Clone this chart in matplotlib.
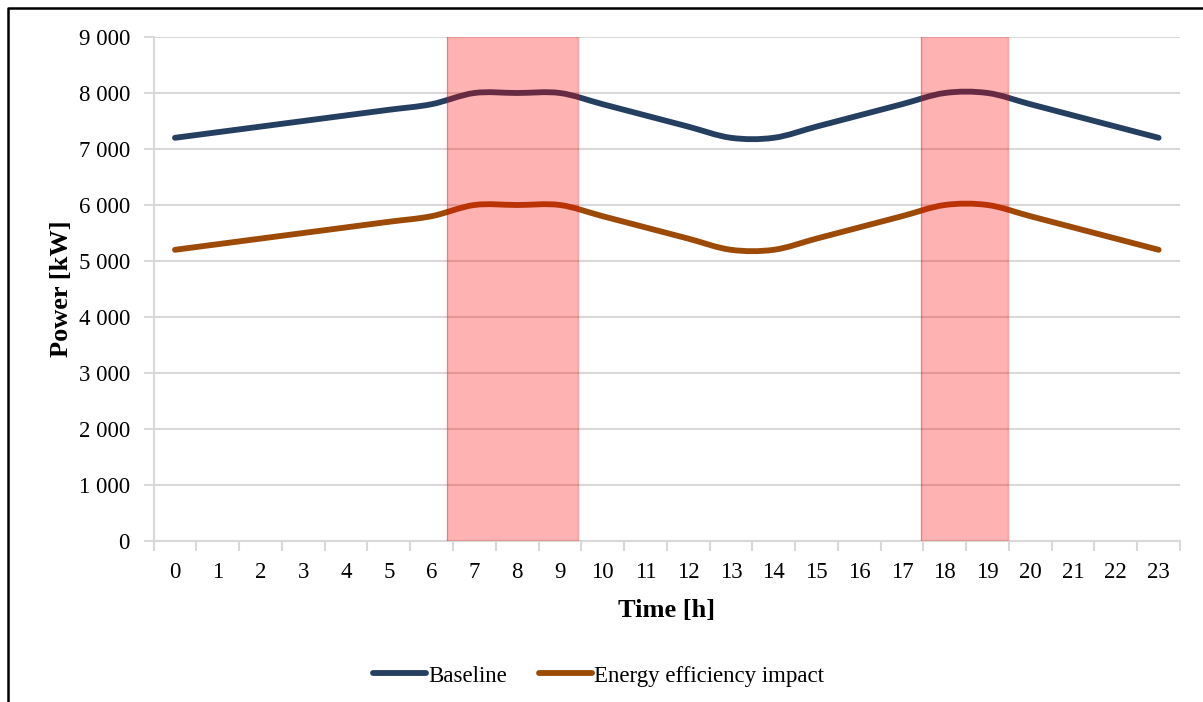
import numpy as np
import matplotlib.pyplot as plt
from matplotlib.path import Path
from matplotlib.patches import PathPatch
from matplotlib.lines import Line2D
from matplotlib.ticker import FuncFormatter

plt.rcParams["font.family"] = ["Liberation Serif", "DejaVu Serif"]

hours = list(range(24))
baseline = [7200, 7300, 7400, 7500, 7600, 7700, 7800, 8000, 8000, 8000, 7800, 7600,
            7400, 7200, 7200, 7400, 7600, 7800, 8000, 8000, 7800, 7600, 7400, 7200]
efficiency = [5200, 5300, 5400, 5500, 5600, 5700, 5800, 6000, 6000, 6000, 5800, 5600,
              5400, 5200, 5200, 5400, 5600, 5800, 6000, 6000, 5800, 5600, 5400, 5200]
peak_windows = [(6.37, 9.42), (17.45, 19.47)]

col_base = "#243f60"
col_eff = "#9c4a06"


def smooth_path(x, y):
    # Excel-style smoothed line: cubic bezier segments (catmull-rom control points)
    pts = np.column_stack([x, y]).astype(float)
    verts = [pts[0]]
    codes = [Path.MOVETO]
    n = len(pts)
    for i in range(n - 1):
        p0 = pts[i - 1] if i > 0 else pts[i]
        p1 = pts[i]
        p2 = pts[i + 1]
        p3 = pts[i + 2] if i + 2 < n else pts[i + 1]
        c1 = p1 + (p2 - p0) / 6
        c2 = p2 - (p3 - p1) / 6
        verts += [c1, c2, p2]
        codes += [Path.CURVE4] * 3
    return Path(verts, codes)


fig = plt.figure(figsize=(12.03, 7.02), dpi=100)
ax = fig.add_axes([153.6 / 1203, 1 - 541 / 702, (1180 - 153.6) / 1203, (541 - 37) / 702])

for ys, c in [(baseline, col_base), (efficiency, col_eff)]:
    ax.add_patch(PathPatch(smooth_path(hours, ys), facecolor="none", edgecolor=c,
                           lw=4.2, capstyle="round", joinstyle="round", zorder=3))

for a, b in peak_windows:
    ax.axvspan(a, b, facecolor="#ff0000", alpha=0.3, edgecolor="none", zorder=4)
    ax.axvline(a, color="#ff0000", alpha=0.35, lw=1, zorder=4)
    ax.axvline(b, color="#ff0000", alpha=0.35, lw=1, zorder=4)

ax.set_xlim(-0.5, 23.5)
ax.set_ylim(0, 9000)
ax.set_yticks(range(0, 9001, 1000))
ax.yaxis.set_major_formatter(FuncFormatter(lambda v, p: f"{int(v):,}".replace(",", " ")))
ax.set_xticks(hours)
ax.set_xticks(np.arange(-0.5, 24, 1), minor=True)
ax.tick_params(axis="x", which="major", length=0, labelsize=16.5, pad=15, colors="black")
ax.tick_params(axis="x", which="minor", length=7, width=1.5, color="#d9d9d9")
ax.tick_params(axis="y", length=7, width=1.5, color="#d9d9d9", labelsize=16.5, pad=10)
ax.grid(axis="y", color="#d9d9d9", lw=1.5, zorder=0)
ax.set_axisbelow(True)
for s in ["top", "right"]:
    ax.spines[s].set_visible(False)
for s in ["left", "bottom"]:
    ax.spines[s].set_color("#d9d9d9")
    ax.spines[s].set_linewidth(1.5)

ax.set_xlabel("Time [h]", fontsize=19, fontweight="bold", labelpad=12)
ax.set_ylabel("Power [kW]", fontsize=19, fontweight="bold", labelpad=4)

handles = [Line2D([], [], color=col_base, lw=4.2, solid_capstyle="round"),
           Line2D([], [], color=col_eff, lw=4.2, solid_capstyle="round")]
fig.legend(handles, ["Baseline", "Energy efficiency impact"], loc="center",
           bbox_to_anchor=(598.5 / 1203, 1 - 676 / 702), ncol=2, frameon=False,
           fontsize=16.5, handlelength=2.3, handletextpad=0.1, columnspacing=1.4)

# chart frame (cropped: only left and top edges visible)
fig.add_artist(Line2D([8 / 1203, 8 / 1203, 1], [0, 1 - 8 / 702, 1 - 8 / 702],
                      transform=fig.transFigure, color="black", lw=1.8))

fig.savefig("out.png", dpi=100)
